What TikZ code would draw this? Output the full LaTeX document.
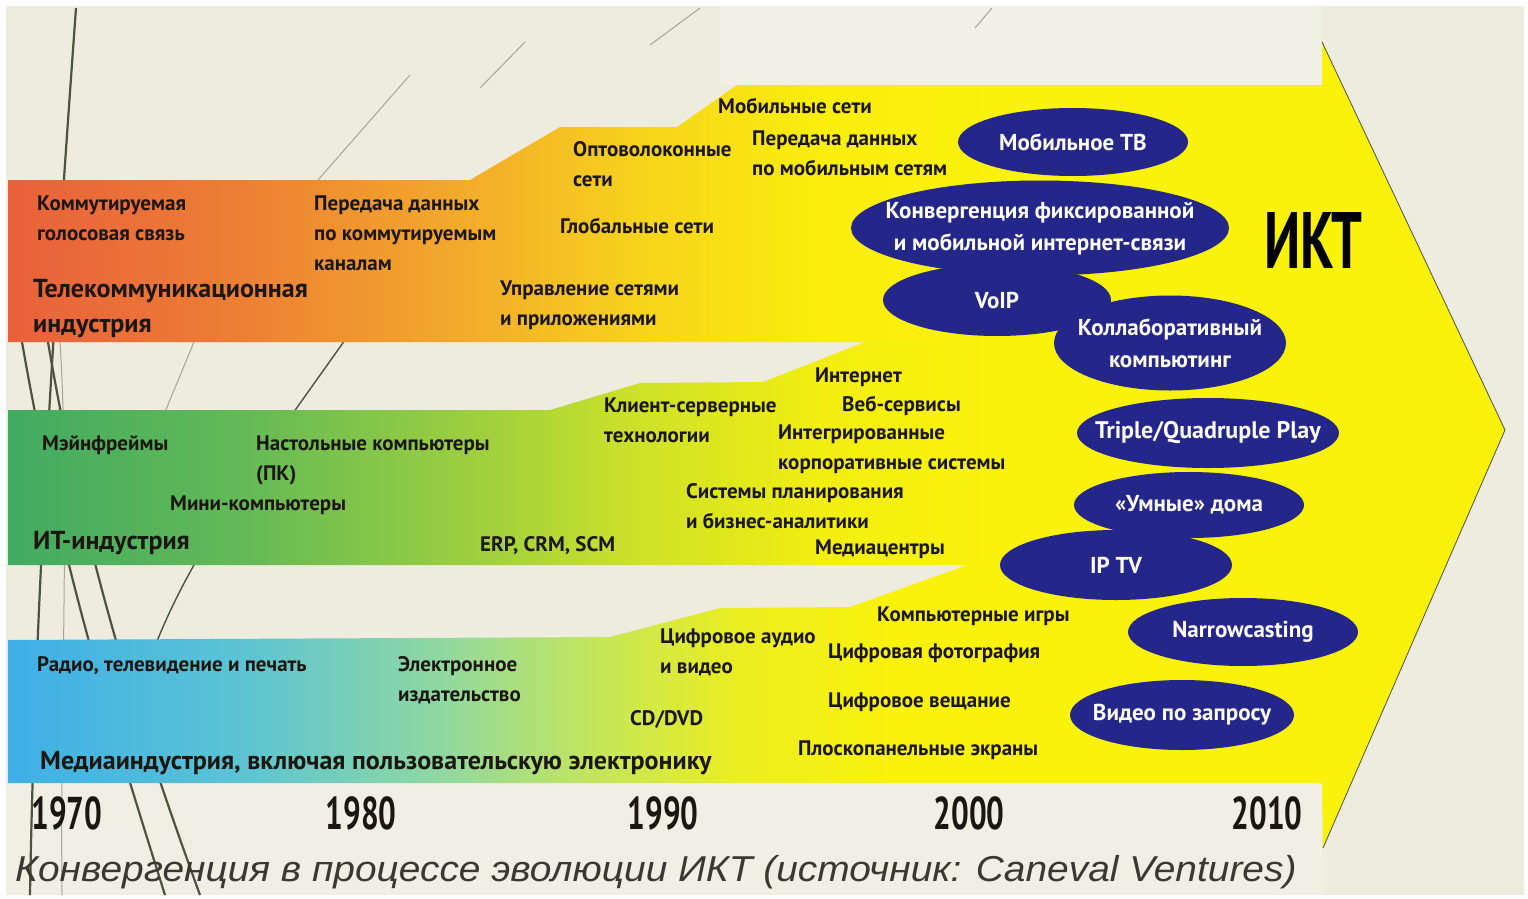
\documentclass[tikz,border=0pt]{standalone}
\usepackage{fontspec}
\setmainfont{PT Sans}
\newfontfamily\hepfont[FakeStretch=0.68]{PT Sans}
\newfontfamily\chuthich[FakeStretch=1.08]{Liberation Sans}
\usetikzlibrary{shapes.geometric}

\definecolor{nen}{RGB}{238,236,222}
\definecolor{vang}{RGB}{250,242,10}
\definecolor{xanhdam}{RGB}{36,38,138}
\definecolor{muc}{RGB}{28,22,16}
\definecolor{xam}{RGB}{58,56,50}
\definecolor{co}{RGB}{78,82,64}
\definecolor{conhat}{RGB}{165,165,150}

% dải màu cho ba ngành
\pgfdeclarehorizontalshading{vienthong}{100bp}{rgb(0bp)=(0.910,0.376,0.235); rgb(25bp)=(0.910,0.376,0.235); rgb(37bp)=(0.929,0.502,0.204); rgb(49bp)=(0.953,0.686,0.165); rgb(57bp)=(0.969,0.831,0.110); rgb(66bp)=(0.980,0.933,0.047); rgb(75bp)=(0.980,0.949,0.039); rgb(100bp)=(0.980,0.949,0.039)}
\pgfdeclarehorizontalshading{cntt}{100bp}{rgb(0bp)=(0.259,0.667,0.384); rgb(25bp)=(0.259,0.667,0.384); rgb(37bp)=(0.392,0.729,0.337); rgb(49bp)=(0.627,0.816,0.243); rgb(57bp)=(0.808,0.886,0.157); rgb(66bp)=(0.949,0.933,0.063); rgb(75bp)=(0.980,0.949,0.039); rgb(100bp)=(0.980,0.949,0.039)}
\pgfdeclarehorizontalshading{truyenthong}{100bp}{rgb(0bp)=(0.243,0.686,0.910); rgb(25bp)=(0.243,0.686,0.910); rgb(37bp)=(0.361,0.769,0.824); rgb(47bp)=(0.569,0.847,0.627); rgb(55bp)=(0.776,0.902,0.345); rgb(62bp)=(0.925,0.933,0.125); rgb(70bp)=(0.980,0.949,0.039); rgb(100bp)=(0.980,0.949,0.039)}

\begin{document}
\begin{tikzpicture}[x=1pt,y=-1pt,
	lbl/.style={anchor=north west, align=left, inner sep=0pt, text=muc, font=\fontsize{21}{30}\selectfont\bfseries},
	tieude/.style={lbl, font=\fontsize{26}{35}\selectfont\bfseries},
	oval/.style={ellipse, fill=xanhdam, inner sep=0pt},
	ovaltxt/.style={align=center, inner sep=0pt, text=white, font=\fontsize{23}{32}\selectfont\bfseries},
	nam/.style={anchor=base, inner sep=0pt, text=muc, font=\hepfont\fontsize{46}{46}\selectfont\bfseries},
	co/.style={draw=co, line width=2.2pt},
	conhat/.style={draw=conhat, line width=1pt}]
	\useasboundingbox (0,0) rectangle (1528,899);
	\fill[white] (0,0) rectangle (1528,899);
	\fill[nen] (6,6) rectangle (1524,895);
	\fill[white, opacity=.22] (720,6) rectangle (1322,85);
	\fill[white, opacity=.18] (6,783) rectangle (1322,895);
	% mấy nét cỏ trang trí phía sau
	\draw[co] (76,8) .. controls (55,300) and (35,600) .. (30,895);
	\draw[co] (22,342) .. controls (60,560) and (110,720) .. (165,895);
	\draw[co] (48,342) .. controls (85,560) and (140,730) .. (200,895);
	\draw[conhat] (60,342) .. controls (70,500) and (60,700) .. (62,895);
	\draw[co, line width=1.4pt] (345,340) .. controls (260,460) and (185,560) .. (150,660);
	\draw[conhat] (194,342) -- (165,412);
	\draw[conhat] (318,180) -- (410,75);
	\draw[conhat] (480,88) -- (525,42);
	\draw[conhat] (650,45) -- (700,8);
	\draw[conhat] (975,28) -- (992,8);
	% mũi tên lớn
	\fill[vang] (990,85) -- (1322,85) -- (1322,42) -- (1505,430) -- (1323,848) -- (1322,783) -- (990,783) -- cycle;
	\draw[co, line width=0.8pt] (1322,42) -- (1505,430) -- (1323,848);
	\shade[shading=vienthong] (8,180) -- (470,180) -- (560,127) -- (677,127) -- (737,85) -- (1000,85) -- (1000,342) -- (8,342) -- cycle;
	\shade[shading=cntt] (8,410) -- (550,410) -- (640,383) -- (763,382) -- (870,340) -- (1000,340) -- (1000,565) -- (8,565) -- cycle;
	\shade[shading=truyenthong] (8,640) -- (610,637) -- (720,608) -- (850,607) -- (973,563) -- (1000,563) -- (1000,783) -- (8,783) -- cycle;

	% Viễn thông
	\node[lbl] (t1) at (37,196) {Коммутируемая\\голосовая связь};
	\node[lbl] (t2) at (314,196) {Передача данных\\по коммутируемым\\каналам};
	\node[tieude] (t0) at (33,279) {Телекоммуникационная\\индустрия};
	\node[lbl] (t3) at (573,141) {Оптоволоконные\\сети};
	\node[lbl] (t4) at (560,218) {Глобальные сети};
	\node[lbl] (t5) at (500,281) {Управление сетями\\и приложениями};
	\node[lbl] (t6) at (718,98) {Мобильные сети};
	\node[lbl] (t7) at (752,131) {Передача данных\\по мобильным сетям};
	% CNTT
	\node[lbl] (i1) at (42,436) {Мэйнфреймы};
	\node[lbl] (i2) at (256,436) {Настольные компьютеры\\(ПК)};
	\node[lbl] (i3) at (170,496) {Мини-компьютеры};
	\node[tieude] (i0) at (33,531) {ИТ-индустрия};
	\node[lbl] (i4) at (480,536) {ERP, CRM, SCM};
	\node[lbl] (i5) at (604,398) {Клиент-серверные\\технологии};
	\node[lbl] (i6) at (815,368) {Интернет};
	\node[lbl] (i7) at (842,396) {Веб-сервисы};
	\node[lbl] (i8) at (778,425) {Интегрированные\\корпоративные системы};
	\node[lbl] (i9) at (686,483) {Системы планирования\\и бизнес-аналитики};
	\node[lbl] (i10) at (815,540) {Медиацентры};
	% Truyền thông
	\node[lbl] (m1) at (37,656) {Радио, телевидение и печать};
	\node[lbl] (m2) at (398,656) {Электронное\\издательство};
	\node[lbl] (m3) at (660,629) {Цифровое аудио\\и видео};
	\node[lbl] (m4) at (630,710) {CD/DVD};
	\node[tieude] (m0) at (40,751) {Медиаиндустрия, включая пользовательскую электронику};
	\node[lbl] (m5) at (877,607) {Компьютерные игры};
	\node[lbl] (m6) at (828,644) {Цифровая фотография};
	\node[lbl] (m7) at (828,693) {Цифровое вещание};
	\node[lbl] (m8) at (798,741) {Плоскопанельные экраны};

	% các hình elip
	\node[oval, minimum width=230pt, minimum height=68pt] (mtv) at (1073,142) {};
	\node[oval, minimum width=378pt, minimum height=95pt] (conv) at (1040,228) {};
	\node[oval, minimum width=228pt, minimum height=72pt] (voip) at (997,300) {};
	\node[oval, minimum width=232pt, minimum height=95pt] (collab) at (1170,343) {};
	\node[oval, minimum width=262pt, minimum height=70pt] (triple) at (1208,433) {};
	\node[oval, minimum width=230pt, minimum height=66pt] (smart) at (1189,505) {};
	\node[oval, minimum width=232pt, minimum height=70pt] (iptv) at (1116,565) {};
	\node[oval, minimum width=230pt, minimum height=68pt] (narrow) at (1243,632) {};
	\node[oval, minimum width=224pt, minimum height=70pt] (vod) at (1182,715) {};
	\node[ovaltxt] (mtvt) at (mtv) {Мобильное ТВ};
	\node[ovaltxt] (convt) at (1040,229) {Конвергенция фиксированной\\и мобильной интернет-связи};
	\node[ovaltxt] (voipt) at (voip) {VoIP};
	\node[ovaltxt] (collabt) at (1170,343) {Коллаборативный\\компьютинг};
	\node[ovaltxt, font=\fontsize{24}{32}\selectfont\bfseries] (triplet) at (triple) {Triple/Quadruple Play};
	\node[ovaltxt] (smartt) at (smart) {«Умные» дома};
	\node[ovaltxt] (iptvt) at (iptv) {IP TV};
	\node[ovaltxt] (narrowt) at (narrow) {Narrowcasting};
	\node[ovaltxt] (vodt) at (vod) {Видео по запросу};

	\node[nam, font=\hepfont\fontsize{80}{80}\selectfont\bfseries, text=black] (ikt) at (1313,268) {ИКТ};
	% trục năm
	\node[nam] (y1970) at (67,829) {1970};
	\node[nam] (y1980) at (361,829) {1980};
	\node[nam] (y1990) at (663,829) {1990};
	\node[nam] (y2000) at (969,829) {2000};
	\node[nam] (y2010) at (1267,829) {2010};
	\node[anchor=base west, inner sep=0pt, text=xam, font=\chuthich\itshape\fontsize{36}{36}\selectfont] (cap) at (15,881) {Конвергенция в процессе эволюции ИКТ (источник: Caneval Ventures)};
\end{tikzpicture}
\end{document}
